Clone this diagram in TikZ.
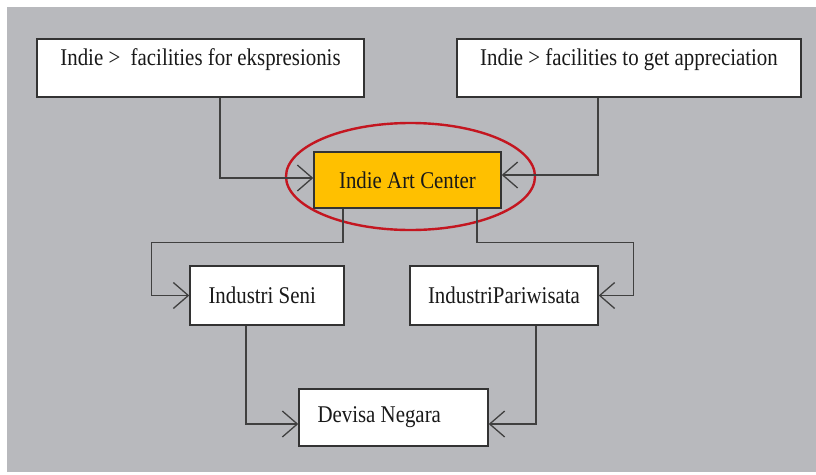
\documentclass[tikz,border=0pt]{standalone}
\usepackage{fontspec}
\setmainfont{Liberation Serif}[FakeStretch=0.87]
\usetikzlibrary{shapes.geometric,arrows.meta}
\definecolor{panelgray}{RGB}{184,185,189}
\definecolor{hubgold}{RGB}{255,192,0}
\definecolor{ringred}{RGB}{196,22,32}
\definecolor{wire}{RGB}{64,64,64}
\tikzset{
flowbox/.style={
	  draw=black!80, line width=1.4pt, fill=white, inner sep=0pt,
	    text=black!90, font=\fontsize{24}{28}\selectfont},
hightext/.style={text height=16pt, text depth=22pt},
lefttext/.style={align=flush left, inner xsep=18.5pt, text width=#1},
link/.style={draw=wire, line width=1.3pt, -{Straight Barb[length=15pt,width=26pt]}}
}

\begin{document}
\begin{tikzpicture}[x=1pt, y=-1pt]
	\useasboundingbox (0,0) rectangle (816,474);
	\fill[panelgray] (7,7) rectangle (816,472);
	\node[flowbox, hightext, minimum width=327pt, minimum height=58pt] (expr) at (200.5,68) {Indie > \ facilities for ekspresionis};
	\node[flowbox, hightext, minimum width=344pt, minimum height=58pt] (appr) at (629,68) {Indie > facilities to get appreciation};
	\node[flowbox, fill=hubgold, minimum width=187pt, minimum height=56pt] (art) at (407.5,180) {Indie Art Center};
	\node[draw=ringred, line width=2.4pt, ellipse, minimum width=249pt, minimum height=107pt] (ring) at (410.5,176.5) {};
	\node[flowbox, lefttext=117pt, minimum height=59pt] (seni) at (267,295.5) {Industri Seni};
	\node[flowbox, minimum width=188pt, minimum height=59pt] (wisata) at (504,295.5) {IndustriPariwisata};
	\node[flowbox, lefttext=152pt, minimum height=57pt] (devisa) at (393.5,417.5) {Devisa Negara};
	\draw[link] ([xshift=19.5pt]expr.south) |- ([yshift=2pt]art.west);
	\draw[link] ([xshift=-31pt]appr.south) |- ([yshift=5pt]art.east);
	\draw[link] ([xshift=-64.5pt]art.south) -- ++(0,34) -| ([xshift=-38pt]seni.west) -- (seni.west);
	\draw[link] ([xshift=69.5pt]art.south) -- ++(0,34) -| ([xshift=35pt]wisata.east) -- (wisata.east);
	\draw[link] ([xshift=-21pt]seni.south) |- ([yshift=-6.5pt]devisa.west);
	\draw[link] ([xshift=32pt]wisata.south) |- ([yshift=-6.5pt]devisa.east);
\end{tikzpicture}
\end{document}
